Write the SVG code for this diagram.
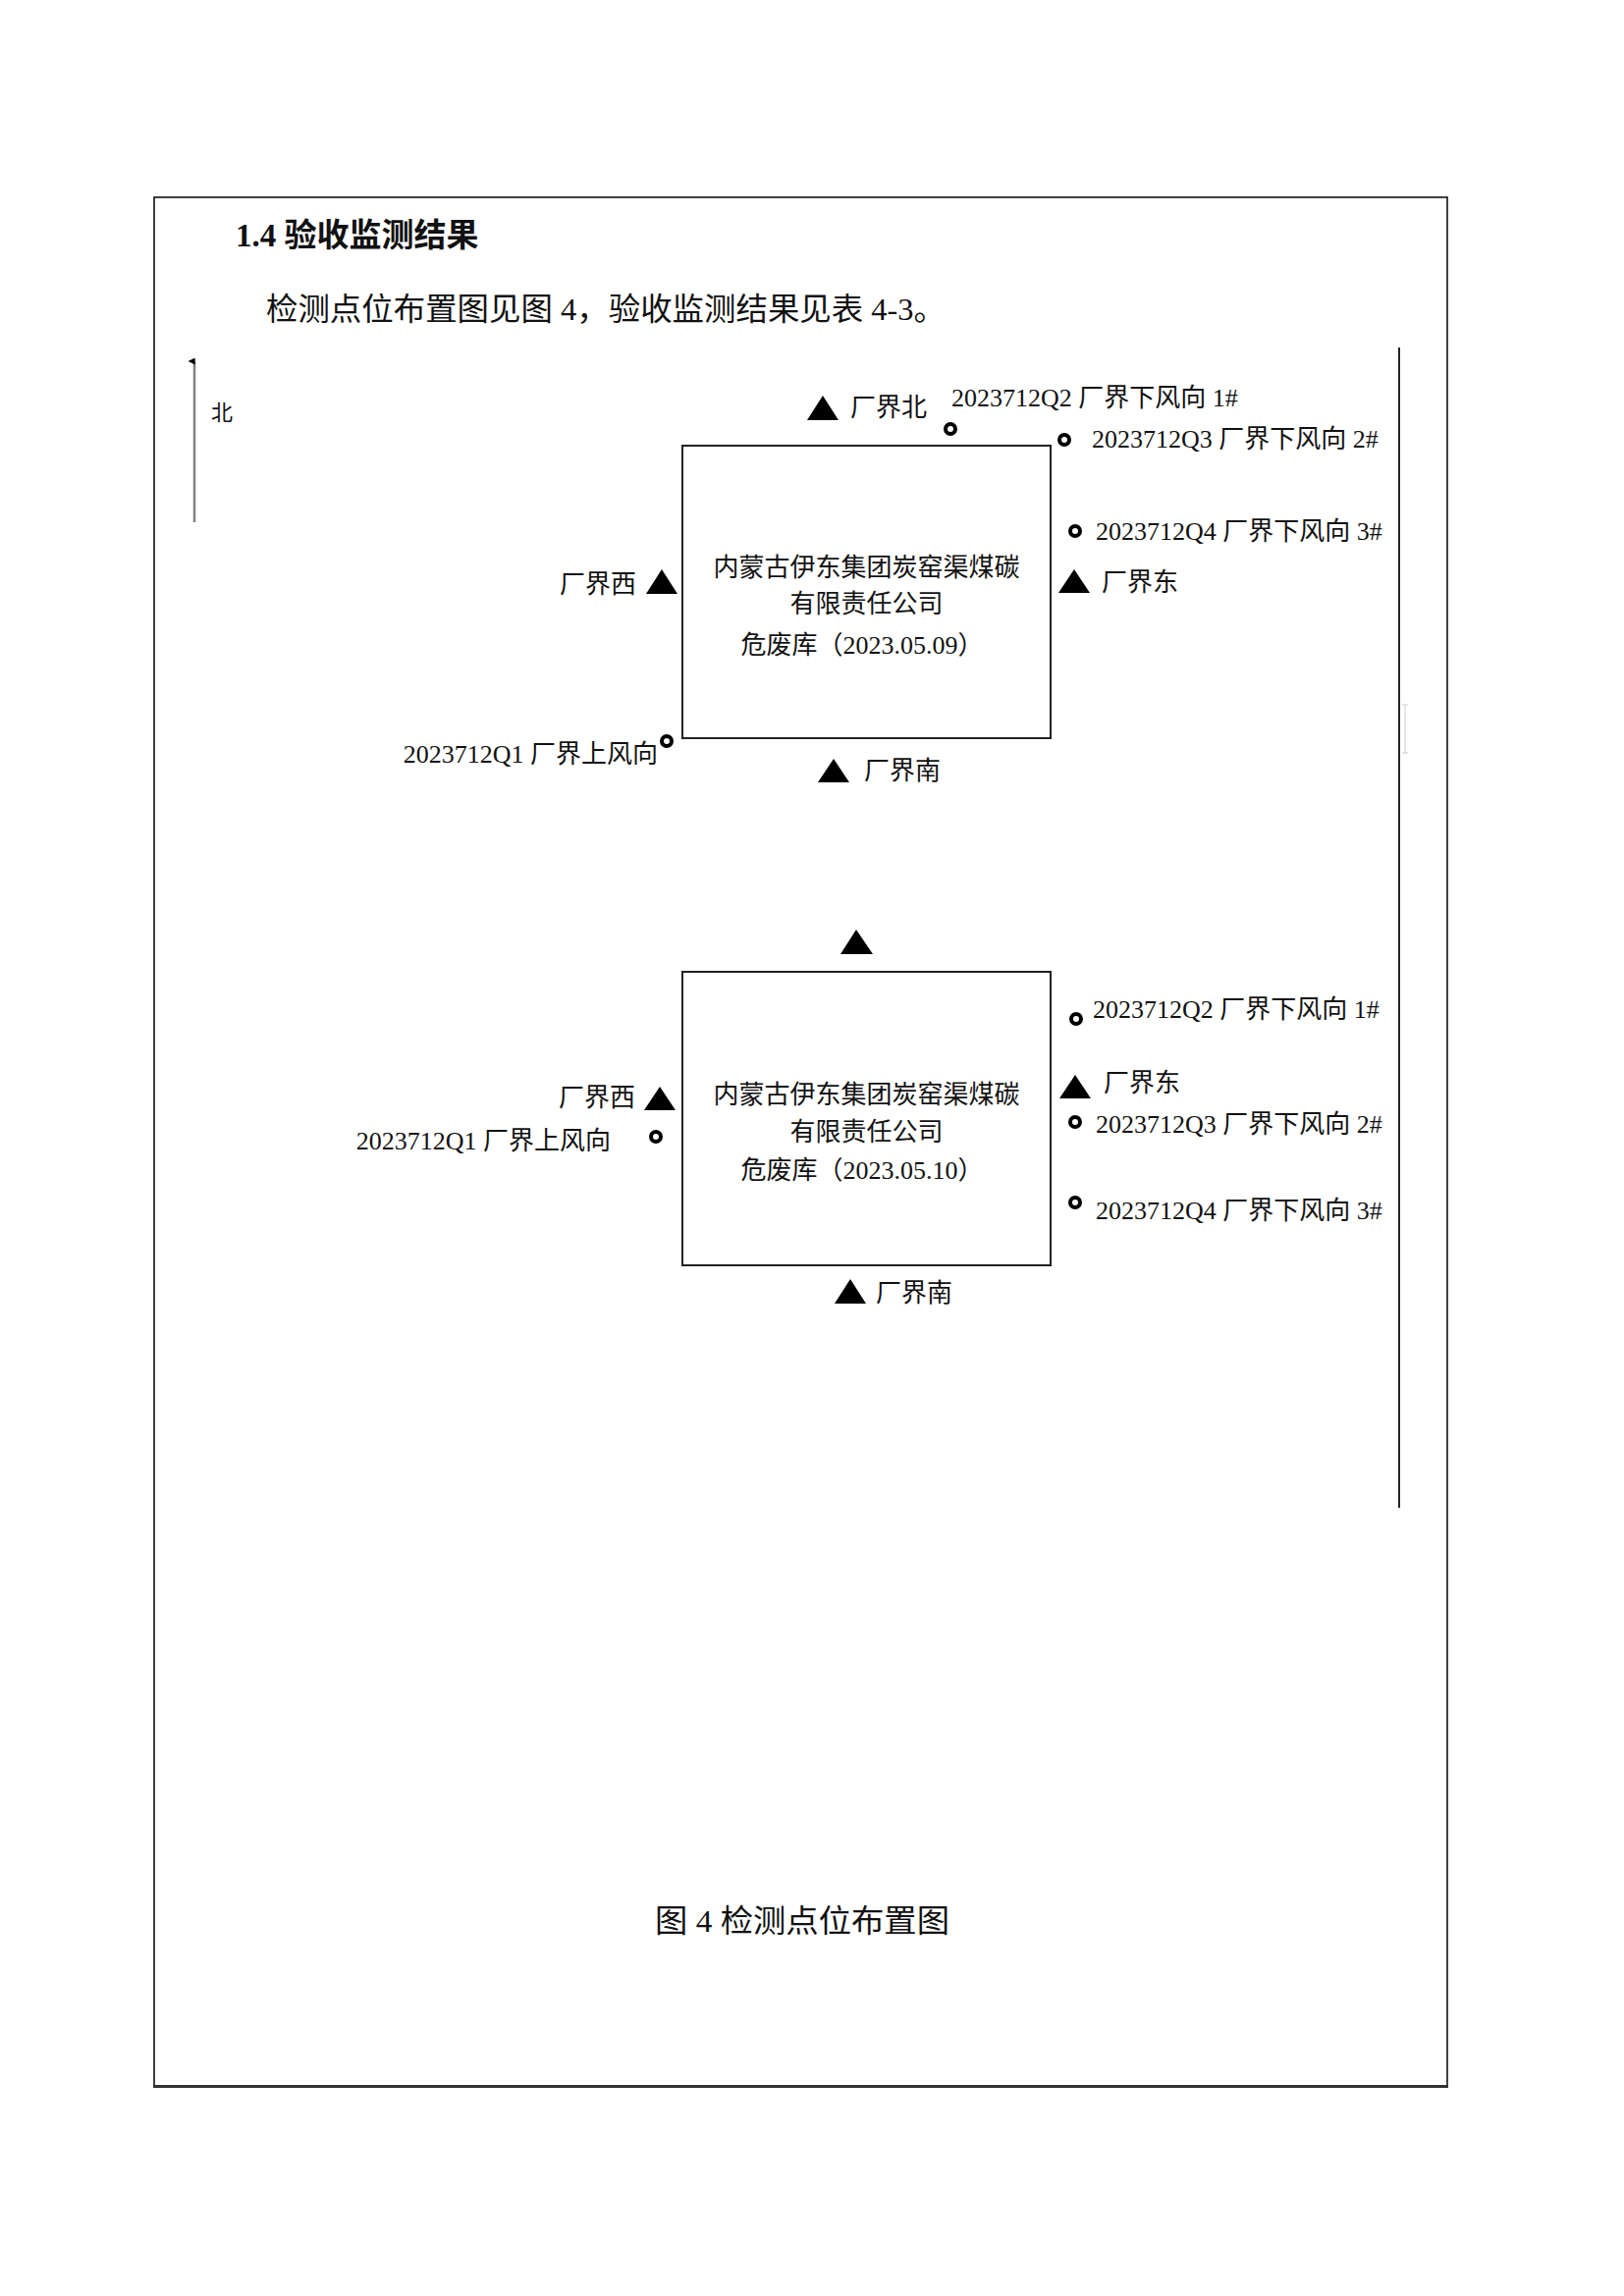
<svg xmlns="http://www.w3.org/2000/svg" width="1654" height="2339" viewBox="0 0 1654 2339">
<defs>
<style>
.t{font-family:"Liberation Serif","Noto Sans CJK SC",serif;fill:#111}
.lb{font-size:26px}
.tri{fill:#000}
.pt{fill:#fff;stroke:#000;stroke-width:4}
.box{fill:#fff;stroke:#222;stroke-width:2}
</style>
<marker id="ah" viewBox="0 0 10 10" refX="5" refY="9" markerWidth="7" markerHeight="7" orient="auto-start-reverse" markerUnits="userSpaceOnUse">
<path d="M0,10 L5,0 L10,10 Z" fill="#000"/>
</marker>
</defs>
<rect width="1654" height="2339" fill="#fff"/>
<g id="frame">
<rect x="157" y="201" width="1317" height="1924" fill="none" stroke="#000" stroke-width="1.5"/>
<line x1="156" y1="2125.5" x2="1475" y2="2125.5" stroke="#333" stroke-width="3"/>
<line x1="1425" y1="354" x2="1425" y2="1536" stroke="#222" stroke-width="2"/>
<path d="M1428,718 H1434 M1431,718 V767 M1428,767 H1434" fill="none" stroke="#ccc" stroke-width="1"/>
</g>
<g id="heading">
<text class="t" x="240" y="251" font-size="33" font-weight="bold">1.4 验收监测结果</text>
<text class="t" x="271" y="326" font-size="32" textLength="692" lengthAdjust="spacingAndGlyphs">检测点位布置图见图 4，验收监测结果见表 4-3。</text>
</g>
<g id="north">
<line x1="198" y1="532" x2="198" y2="368" stroke="#808080" stroke-width="2.5" marker-end="url(#ah)"/>
<text class="t" x="215" y="428" font-size="22">北</text>
</g>
<g id="site1">
<rect class="box" x="695" y="454" width="375" height="298"/>
<text class="t lb" x="882.5" y="587" text-anchor="middle">内蒙古伊东集团炭窑渠煤碳</text>
<text class="t lb" x="882.5" y="624" text-anchor="middle">有限责任公司</text>
<text class="t lb" x="878" y="666" text-anchor="middle">危废库（2023.05.09）</text>
</g>
<g id="s1-north">
<path class="tri" d="M838,403 L854,428 L822,428 Z"/>
<text class="t lb" x="866" y="424">厂界北</text>
</g>
<g id="s1-east">
<path class="tri" d="M1094,580 L1110,604 L1078,604 Z"/>
<text class="t lb" x="1122" y="602">厂界东</text>
</g>
<g id="s1-west">
<path class="tri" d="M674,580 L690,605 L658,605 Z"/>
<text class="t lb" x="648" y="604" text-anchor="end">厂界西</text>
</g>
<g id="s1-south">
<path class="tri" d="M849,773 L865,797 L833,797 Z"/>
<text class="t lb" x="880" y="794">厂界南</text>
</g>
<g id="s1-q1">
<circle class="pt" cx="679" cy="755" r="5"/>
<text class="t lb" x="670" y="777" text-anchor="end">2023712Q1 厂界上风向</text>
</g>
<g id="s1-q2">
<circle class="pt" cx="968" cy="437" r="5"/>
<text class="t lb" x="969" y="414">2023712Q2 厂界下风向 1#</text>
</g>
<g id="s1-q3">
<circle class="pt" cx="1084" cy="448" r="5"/>
<text class="t lb" x="1112" y="456">2023712Q3 厂界下风向 2#</text>
</g>
<g id="s1-q4">
<circle class="pt" cx="1095" cy="541" r="5"/>
<text class="t lb" x="1116" y="550">2023712Q4 厂界下风向 3#</text>
</g>
<g id="site2">
<rect class="box" x="695" y="990" width="375" height="299"/>
<text class="t lb" x="882.5" y="1124" text-anchor="middle">内蒙古伊东集团炭窑渠煤碳</text>
<text class="t lb" x="882.5" y="1162" text-anchor="middle">有限责任公司</text>
<text class="t lb" x="878" y="1201" text-anchor="middle">危废库（2023.05.10）</text>
</g>
<g id="s2-north">
<path class="tri" d="M872,947 L889,972 L856,972 Z"/>
</g>
<g id="s2-east">
<path class="tri" d="M1095,1095 L1111,1119 L1079,1119 Z"/>
<text class="t lb" x="1124" y="1112">厂界东</text>
</g>
<g id="s2-west">
<path class="tri" d="M672,1107 L688,1131 L656,1131 Z"/>
<text class="t lb" x="647" y="1127" text-anchor="end">厂界西</text>
</g>
<g id="s2-south">
<path class="tri" d="M866,1303 L882,1328 L850,1328 Z"/>
<text class="t lb" x="892" y="1326">厂界南</text>
</g>
<g id="s2-q1">
<circle class="pt" cx="668" cy="1158" r="5"/>
<text class="t lb" x="622" y="1171" text-anchor="end">2023712Q1 厂界上风向</text>
</g>
<g id="s2-q2">
<circle class="pt" cx="1096" cy="1038" r="5"/>
<text class="t lb" x="1113" y="1037">2023712Q2 厂界下风向 1#</text>
</g>
<g id="s2-q3">
<circle class="pt" cx="1095" cy="1143" r="5"/>
<text class="t lb" x="1116" y="1154">2023712Q3 厂界下风向 2#</text>
</g>
<g id="s2-q4">
<circle class="pt" cx="1095" cy="1225" r="5"/>
<text class="t lb" x="1116" y="1242">2023712Q4 厂界下风向 3#</text>
</g>
<g id="connectors"></g>
<g id="caption">
<text class="t" x="667" y="1968" font-size="32" textLength="300" lengthAdjust="spacingAndGlyphs">图 4 检测点位布置图</text>
</g>
</svg>
